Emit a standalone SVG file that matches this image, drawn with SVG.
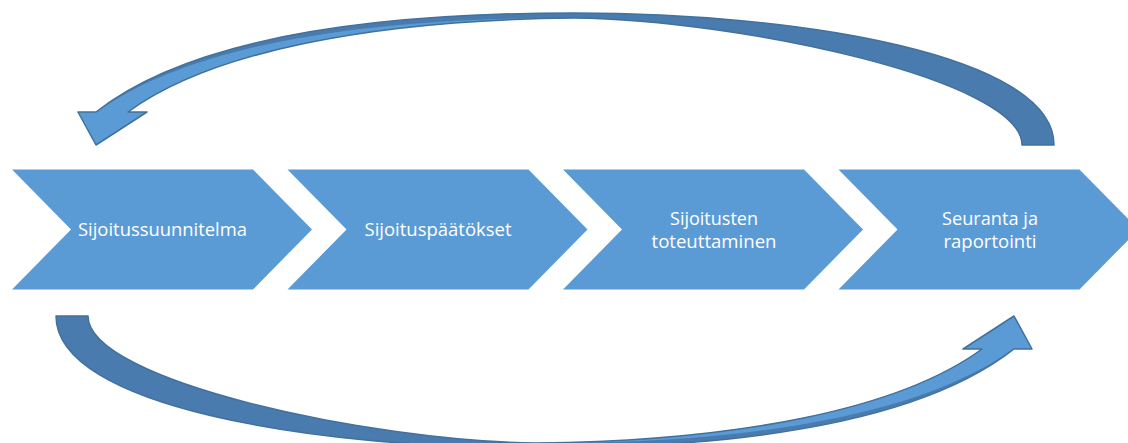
<svg xmlns="http://www.w3.org/2000/svg" xmlns:xlink="http://www.w3.org/1999/xlink" width="1128" height="443" viewBox="0 0 1128 443">
<style>
.chev{fill:#5B9BD5;}
.lbl{font-family:"Open Sans","Liberation Sans",sans-serif;font-size:18.5px;fill:#FFFFFF;text-anchor:middle;}
.back{fill:#4A7BAE;}
.front{fill:#5B9BD5;}
.edge{fill:none;stroke:#41719C;stroke-width:1.5;stroke-linejoin:round;}
</style>
<defs>
<g id="curvedArrow">
<path class="back" d="M1054,145 C1054,55 800,13 574,13 C370,13 190,38 96,112 L78,112 L96,145 L147,112 L128,112 C210,52 370,20 574,18 C740,20 1022,80 1022,145 Z"/>
<path class="front" d="M97,112 L78,112 L96,145 L147,112 L128,112 C210,52 370,20 574,18 C372,17 192,43 97,112 Z"/>
<path class="edge" d="M1054,145 C1054,55 800,13 574,13 C370,13 190,38 96,112 L78,112 L96,145 L147,112 L128,112 C210,52 370,20 574,18 C740,20 1022,80 1022,145 Z"/>
</g>
</defs>
<g id="connectors">
<use xlink:href="#curvedArrow" href="#curvedArrow"/>
<use xlink:href="#curvedArrow" href="#curvedArrow" transform="rotate(180 555 230.5)"/>
</g>
<g id="node1">
<path class="chev" d="M12,169.5 L253,169.5 L312,229.5 L253,289.5 L12,289.5 L71,229.5 Z"/>
<text class="lbl" x="162.5" y="236" textLength="169" lengthAdjust="spacingAndGlyphs">Sijoitussuunnitelma</text>
</g>
<g id="node2">
<path class="chev" d="M287.5,169.5 L528.5,169.5 L587.5,229.5 L528.5,289.5 L287.5,289.5 L346.5,229.5 Z"/>
<text class="lbl" x="438" y="236" textLength="147" lengthAdjust="spacingAndGlyphs">Sijoituspäätökset</text>
</g>
<g id="node3">
<path class="chev" d="M563,169.5 L804,169.5 L863,229.5 L804,289.5 L563,289.5 L622,229.5 Z"/>
<text class="lbl" x="714" y="225" textLength="88" lengthAdjust="spacingAndGlyphs">Sijoitusten</text>
<text class="lbl" x="714" y="248" textLength="125" lengthAdjust="spacingAndGlyphs">toteuttaminen</text>
</g>
<g id="node4">
<path class="chev" d="M838.5,169.5 L1079.5,169.5 L1138.5,229.5 L1079.5,289.5 L838.5,289.5 L897.5,229.5 Z"/>
<text class="lbl" x="990" y="225" textLength="96" lengthAdjust="spacingAndGlyphs">Seuranta ja</text>
<text class="lbl" x="990" y="248" textLength="93" lengthAdjust="spacingAndGlyphs">raportointi</text>
</g>
</svg>
